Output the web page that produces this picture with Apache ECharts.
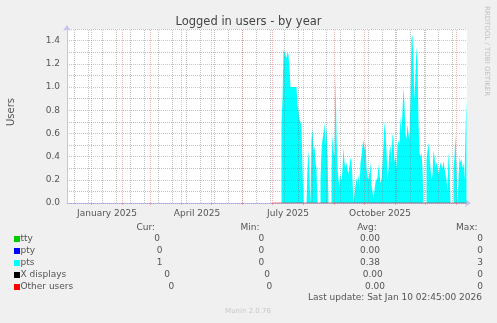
<!DOCTYPE html>
<html><head><meta charset="utf-8">
<script src="https://cdn.jsdelivr.net/npm/echarts@6/dist/echarts.min.js"></script>
<style>html,body{margin:0;padding:0;background:#f0f0f0;}#c{width:497px;height:323px;}</style>
</head><body><div id="c"></div>
<script>
// ---------- data ----------
const chartTitle = 'Logged in users - by year';
const yAxisTitle = 'Users';
const xRange = ['2024-12-07T12:00:00Z', '2026-01-11T12:00:00Z'];
const xLabelTexts = ['January 2025', 'April 2025', 'July 2025', 'October 2025'];
const xLabelDates = ['2025-01-16T12:00:00Z', '2025-04-16T12:00:00Z', '2025-07-16T12:00:00Z', '2025-10-16T12:00:00Z'];
const monthLineDates = ['2025-01-01','2025-02-01','2025-03-01','2025-04-01','2025-05-01','2025-06-01','2025-07-01',
  '2025-08-01','2025-09-01','2025-10-01','2025-11-01','2025-12-01','2026-01-01'];
const weekLineDates = ['2024-12-15','2024-12-29','2025-01-12','2025-01-26','2025-02-09','2025-02-23','2025-03-09',
  '2025-03-23','2025-04-06','2025-04-20','2025-05-04','2025-05-18','2025-06-01','2025-06-15','2025-06-29',
  '2025-07-13','2025-07-27','2025-08-10','2025-08-24','2025-09-07','2025-09-21','2025-10-05','2025-10-19',
  '2025-11-02','2025-11-16','2025-11-30','2025-12-14','2025-12-28'];
const ptsStartDate = '2025-07-01';
const ptsValues = [
  0,0,0,0,0,0,0,0,0,
  0.69,0.9,1.32,1.30,1.28,1.25,1.30,1.28,1.15,1.0,
  1.0,1.0,1.0,1.0,1.0,1.0,0.85,0.79,0.72,0.70,
  0.65,0.3,0,0,0,0,0.3,0.46,0.2,0,
  0.55,0.64,0.45,0.49,0.35,0.3,0,0,0,0.2,
  0.45,0.55,0.6,0.69,0.5,0.66,0.4,0,0,0,
  0.3,0.59,0.45,0.4,1.12,0.6,0.3,0.2,0.14,0.25,
  0.18,0.3,0.48,0.35,0.3,0.35,0.28,0.25,0.32,0.39,
  0.36,0.2,0,0,0.15,0.22,0.15,0.25,0.12,0.35,
  0.4,0.5,0.54,0.45,0.53,0.3,0.23,0.2,0.26,0.35,
  0.15,0.1,0.04,0.04,0.18,0.2,0.22,0.33,0.25,0.17,
  0.2,0.35,0.5,0.7,0.6,0.45,0.2,0.3,0.45,0.5,
  0.35,0.6,0.55,0.35,0.4,0.3,0.5,0.54,0.5,0.75,
  0.6,0.8,0.99,0.85,0.6,0.55,0.68,0.6,0.55,0.9,
  1.42,1.45,1.2,0.89,0.9,1.35,1.2,0.7,0.43,0.4,
  0.43,0.3,0,0,0,0.37,0.45,0.52,0.4,0.3,
  0.2,0.25,0.45,0.4,0.3,0.35,0.32,0.25,0.3,0.35,
  0.35,0.3,0.36,0.3,0.25,0.2,0.1,0.44,0.3,0,
  0,0,0.3,0.4,0.59,0.3,0,0,0.4,0.35,
  0.38,0.3,0.35,0.2,0.6,0.9
];
const otherUsersDates = ['2025-07-01', '2026-01-11'];
const otherUsersValues = [0, 0];
const legendNames = ['tty', 'pty', 'pts', 'X displays', 'Other users'];
const legendColors = ['#00CC00', '#0000FF', '#00FFFF', '#000000', '#FF0000'];
const statHeaders = ['Cur:', 'Min:', 'Avg:', 'Max:'];
const curValues = ['0', '0', '1', '0', '0'];
const minValues = ['0', '0', '0', '0', '0'];
const avgValues = ['0.00', '0.00', '0.38', '0.00', '0.00'];
const maxValues = ['0', '0', '3', '0', '0'];
const lastUpdate = 'Last update: Sat Jan 10 02:45:00 2026';
const watermark = 'RRDTOOL / TOBI OETIKER';
const footer = 'Munin 2.0.76';

// ---------- layout ----------
const FONT = 'DejaVu Sans';
const DAY = 86400000;
const ts = d => Date.parse(d);
const RED = 'rgba(225,90,90,0.45)';
const GRAY = 'rgba(130,130,130,0.5)';
const AXIS = '#c4c4ee';
const headerX = [145.8, 250, 367, 466.7];
const colX = [
  [157.2, 159.5, 159.5, 167.2, 171.3],
  [261.3, 261.3, 261.3, 267, 269.3],
  [370, 370, 370, 372.7, 375],
  [480, 480, 480, 480, 480]
];
const rowY0 = 239, rowStep = 12;

const startTs = ts(ptsStartDate);
const ptsData = ptsValues.map((v, i) => [startTs + i * DAY, v]);
const labelTs = xLabelDates.map(ts);

const markData = weekLineDates.map(d => ({xAxis: ts(d), lineStyle: {color: GRAY}}))
  .concat(monthLineDates.map(d => ({xAxis: ts(d), lineStyle: {color: RED}})));

const graphics = [];
const txt = (x, y, text, size, color, align, rot) => graphics.push({
  type: 'text', x: x, y: y, rotation: rot || 0, silent: true,
  style: {text: text, font: size + 'px "' + FONT + '"', fill: color, align: align || 'center', verticalAlign: 'middle'}
});
txt(248.5, 22, chartTitle, 11.5, '#444');
txt(11, 112, yAxisTitle, 10, '#555', 'center', Math.PI / 2);
txt(487, 51, watermark, 7, '#c0c0c0', 'center', -Math.PI / 2);
statHeaders.forEach((h, i) => txt(headerX[i], 227.5, h, 9, '#555'));
const cols = [curValues, minValues, avgValues, maxValues];
legendNames.forEach((n, r) => {
  const y = rowY0 + r * rowStep;
  graphics.push({type: 'rect', silent: true, shape: {x: 14, y: y - 3, width: 6, height: 6}, style: {fill: legendColors[r]}});
  txt(20.5, y, n, 9, '#555', 'left');
  cols.forEach((c, k) => txt(colX[k][r], y, c[r], 9, '#555'));
});
txt(482, 297.5, lastUpdate, 9, '#555', 'right');
txt(248, 311, footer, 7, '#c8c8c8');

const chart = echarts.init(document.getElementById('c'), null, {renderer: 'canvas'});
chart.setOption({
  backgroundColor: '#f0f0f0',
  animation: false,
  grid: {left: 67, top: 29, width: 400, height: 174, show: true, backgroundColor: '#ffffff', borderWidth: 0},
  xAxis: {
    type: 'value', min: ts(xRange[0]), max: ts(xRange[1]), scale: true,
    axisLine: {show: true, lineStyle: {color: AXIS, width: 1}, symbol: ['none', 'arrow'], symbolSize: [6, 6], symbolOffset: [0, 4]},
    axisTick: {show: true, customValues: monthLineDates.map(ts), length: 2, lineStyle: {color: RED}},
    axisLabel: {
      customValues: labelTs, color: '#555', fontFamily: FONT, fontSize: 9, margin: 6,
      formatter: v => { let best = 0; labelTs.forEach((t, i) => { if (Math.abs(t - v) < Math.abs(labelTs[best] - v)) best = i; }); return xLabelTexts[best]; }
    },
    splitLine: {show: false}
  },
  yAxis: {
    type: 'value', min: 0, max: 1.5, interval: 0.1, z: 5,
    axisLine: {show: true, lineStyle: {color: AXIS, width: 1}, symbol: ['none', 'arrow'], symbolSize: [6, 6], symbolOffset: [0, 4]},
    axisTick: {show: false},
    axisLabel: {color: '#555', fontFamily: FONT, fontSize: 9, margin: 7,
      formatter: v => (Math.round(v * 10) % 2 === 0 && v < 1.45) ? v.toFixed(1) : ''},
    splitLine: {show: true, lineStyle: {color: [RED, GRAY], type: [1, 1], width: 1}}
  },
  series: [
    {
      name: 'pts', type: 'line', step: 'end', symbol: 'none', data: ptsData,
      lineStyle: {width: 0, color: '#00FFFF'}, areaStyle: {color: '#00FFFF', opacity: 1},
      markLine: {silent: true, symbol: ['none', 'none'], label: {show: false}, animation: false,
        lineStyle: {type: [1, 1], width: 1}, data: markData}
    },
    {
      name: 'Other users', type: 'line', symbol: 'none',
      data: otherUsersValues.map((v, i) => [ts(otherUsersDates[i]), v]),
      lineStyle: {width: 1, color: 'rgba(255,0,0,0.55)'}, z: 3
    }
  ],
  graphic: graphics
});
</script></body></html>
